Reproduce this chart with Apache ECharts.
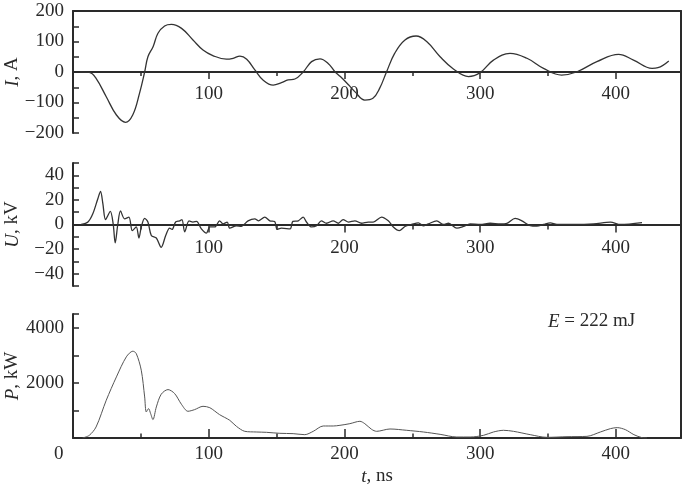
<!DOCTYPE html>
<html>
<head>
<meta charset="utf-8">
<script src="https://cdn.jsdelivr.net/npm/echarts@6.0.0/dist/echarts.min.js"></script>
<style>
  html, body { margin: 0; padding: 0; background: #fff; }
  #chart { width: 685px; height: 487px; }
</style>
</head>
<body>
<div id="chart"></div>
<script>
// current, A
const iTime = [5, 12, 17, 24.5, 32, 38.7, 44, 49, 52.8, 55.2, 59, 62.6, 67.5, 72.5, 80, 88.4, 95.8, 103, 113, 118,
  123, 128, 134, 140, 147.5, 153.6, 158.5, 163.5, 169.6, 175.8, 182, 188, 193, 197, 203, 208, 215, 221, 226, 231,
  237, 244.6, 252.8, 260.6, 270.5, 280.3, 291.4, 300, 309.8, 322, 334.5, 346.7, 360, 371, 386, 402, 413, 426.7, 431, 439]
const iValue = [0, -1, -21, -81, -141, -165, -141, -70, 0, 50, 83, 127, 151, 156, 143, 105, 72, 54, 42, 45,
  52, 42, 7, -26, -43, -35, -26, -23, 0, 34, 43, 28, 1, -15, -42, -66, -92, -86, -53, 0,
  61, 105, 118, 100, 50, 10, -15, -2, 39, 61, 45, 12, -10, 0, 34, 58, 39, 12, 14, 36]

// voltage, kV
const uTime = [6, 11, 14.6, 18.3, 20.3, 22, 24, 27.5, 29.6, 31.1, 33, 35, 38, 41.2, 43.7, 46.6, 48.6, 50.3, 52.8, 55.2,
  57.7, 61.4, 65, 68.3, 71.2, 73, 75.6, 78.6, 80.3, 82.3, 85.5, 88.4, 91, 94.6, 98.3, 100.8, 104.5, 108, 110.5, 113.6,
  115.5, 120.4, 124, 129, 134, 136.5, 141.3, 145, 148.6, 150.4, 153.6, 160, 162, 166, 169.6, 172, 175.8, 179.5, 183, 186.8,
  191.7, 195.5, 199, 203, 207.7, 212.6, 217.5, 221.2, 227.4, 232.3, 236, 240.4, 244.6, 249.5, 254.5, 258, 261.8, 268, 273, 276.7,
  282.8, 287.7, 292.6, 300, 307.4, 314.8, 319.7, 325.8, 330.8, 336.9, 341.8, 346.7, 351.7, 356.6, 368.9, 383.6, 396, 403.4, 419.3]
const uValue = [0, 2, 8.7, 21, 27, 17, 4, 10.6, 0.5, -15, 0, 11, 4.6, 6, -5, -2, -11, -2, 5, 2,
  -9, -11, -18.5, -9, -3, -4, 2, 3, 4, -6, 3, 2, 2.5, -3.5, -7, -2, -2, 3, 0.5, 2,
  -3, -1, -1.5, 3, 4.6, 3, 6, 3, 2.5, -4, -3, -3.5, 2.5, 3, 6, 2, -2, -1, 3, 1,
  3, 1, 4, 2, 3, 1, 2, 2, 6, 3, -2, -5, -1.6, 0, 1.4, -1, 0.5, 3, 0, 1,
  -3, -1.6, 0.5, 0, 1, 0.5, 1, 5, 3, -1, -1.4, 0, 1.4, 0, 0, 0.5, 2, 0, 1.6]

// power, kW
const pTime = [7, 12, 17, 24.5, 32, 39.3, 44.1, 46.6, 50.3, 52.8, 54, 55.7, 57.2, 58.9, 61.4, 65, 70, 74.9, 79.9, 84.7,
  89.6, 95.8, 100.8, 108, 115.5, 120.4, 126.6, 135, 142.5, 152.4, 162.2, 170.8, 177, 184.4, 191.8, 196.7, 204, 211.4, 215, 220,
  223.7, 233.6, 245.9, 258.2, 270.5, 282.8, 292.6, 302.5, 309.8, 317.2, 324.6, 336.9, 349.2, 364, 378.7, 388.6, 396, 401, 407, 413.3,
  419.3, 423]
const pValue = [0, 97, 400, 1370, 2218, 2945, 3150, 3066, 2460, 1490, 945, 1066, 885, 667, 1127, 1588, 1757, 1612, 1224, 970,
  1030, 1150, 1100, 848, 642, 424, 242, 218, 206, 170, 158, 121, 242, 436, 436, 460, 520, 606, 520, 315,
  242, 327, 279, 218, 133, 36, 36, 97, 218, 279, 242, 121, 24, 48, 60, 218, 340, 376, 303, 121,
  12, 0]

const energyNote = '{i|E} = 222 mJ'

const FONT = 'Liberation Serif'
const INK = '#2a2a2a'
const minus = (v) => String(v).replace('-', '\u2212')
const italic = { i: { fontStyle: 'italic', fontFamily: FONT, fontSize: 19, color: INK } }
const pairs = (ts, vs) => ts.map((t, k) => [t, vs[k]])

const line = { color: INK, width: 2 }
const tickStyle = { color: INK, width: 1.5 }
const labelBase = { color: INK, fontFamily: FONT, fontSize: 19 }

// x axes: the upper two sit on their panel's zero line (pulled up with a negative offset)
const xAxisFor = (gridIndex, opts) => ({
  gridIndex,
  type: 'value',
  min: 0,
  max: 448,
  interval: 100,
  offset: opts.offset || 0,
  axisLine: { onZero: false, lineStyle: line },
  axisTick: { inside: opts.inside, length: opts.tick, lineStyle: tickStyle },
  minorTick: { show: true, splitNumber: 2, length: opts.minor, lineStyle: tickStyle },
  axisLabel: { ...labelBase, margin: opts.margin, formatter: opts.fmt, rich: opts.rich },
  splitLine: { show: false },
  minorSplitLine: { show: false },
  ...opts.extra,
})

const yAxisFor = (gridIndex, opts) => ({
  gridIndex,
  type: 'value',
  min: opts.min,
  max: opts.max,
  interval: opts.interval,
  name: opts.name,
  nameLocation: 'middle',
  nameRotate: 90,
  nameGap: 51,
  nameMoveOverlap: false,
  nameTextStyle: { ...labelBase, rich: italic },
  axisLine: { onZero: false, lineStyle: line },
  axisTick: { inside: true, length: 6, lineStyle: tickStyle },
  axisLabel: { ...labelBase, margin: 9, formatter: opts.fmt },
  splitLine: { show: false },
})

const chart = echarts.init(document.getElementById('chart'))

const gridBase = { left: 73, right: 4, outerBoundsMode: 'none', containLabel: false }

chart.setOption({
  animation: false,
  backgroundColor: '#fff',
  title: {
    text: energyNote,
    left: 548,
    top: 312,
    padding: 0,
    textStyle: { ...labelBase, fontWeight: 'normal', rich: italic },
  },
  grid: [
    { ...gridBase, top: 11, height: 122 },
    { ...gridBase, top: 163, height: 123 },
    { ...gridBase, top: 314, height: 124 },
    { ...gridBase, top: 11, bottom: 49 },
  ],
  xAxis: [
    xAxisFor(0, { offset: -61, inside: false, tick: 7, minor: 4, margin: 13, fmt: (v) => (v > 0 && v <= 400 ? v : '') }),
    xAxisFor(1, { offset: -61.5, inside: false, tick: 8, minor: 5, margin: 14, fmt: (v) => (v > 0 && v <= 400 ? v : '') }),
    xAxisFor(2, {
      inside: true, tick: 9, minor: 4.5, margin: 7,
      fmt: (v) => (v === 0 ? '{z|0}' : v <= 400 ? v : ''),
      rich: { z: { ...labelBase, width: 38, align: 'left' } },
      extra: {
        name: '{i|t}, ns', nameLocation: 'middle', nameGap: 29, nameMoveOverlap: false,
        nameTextStyle: { ...labelBase, rich: italic },
      },
    }),
    {
      gridIndex: 3, type: 'value', min: 0, max: 1, position: 'top',
      axisLine: { onZero: false, lineStyle: line },
      axisTick: { show: false }, axisLabel: { show: false }, splitLine: { show: false },
    },
  ],
  yAxis: [
    yAxisFor(0, { min: -200, max: 200, interval: 50, name: '{i|I}, A', fmt: (v) => (v % 100 === 0 ? minus(v) : '') }),
    yAxisFor(1, { min: -50, max: 50, interval: 10, name: '{i|U}, kV', fmt: (v) => (v % 20 === 0 && Math.abs(v) < 50 ? minus(v) : '') }),
    yAxisFor(2, { min: 0, max: 4500, interval: 1000, name: '{i|P}, kW', fmt: (v) => (v === 2000 || v === 4000 ? v : '') }),
    {
      gridIndex: 3, type: 'value', min: 0, max: 1, position: 'right',
      axisLine: { onZero: false, lineStyle: line },
      axisTick: { show: false }, axisLabel: { show: false }, splitLine: { show: false },
    },
  ],
  series: [
    {
      name: 'I', type: 'line', xAxisIndex: 0, yAxisIndex: 0, smooth: 0.4, symbol: 'none',
      lineStyle: { color: '#333', width: 1.3 }, data: pairs(iTime, iValue),
    },
    {
      name: 'U', type: 'line', xAxisIndex: 1, yAxisIndex: 1, smooth: 0.3, symbol: 'none',
      lineStyle: { color: '#333', width: 1.3 }, data: pairs(uTime, uValue),
    },
    {
      name: 'P', type: 'line', xAxisIndex: 2, yAxisIndex: 2, smooth: 0.3, symbol: 'none',
      lineStyle: { color: '#555', width: 1 }, data: pairs(pTime, pValue),
    },
  ],
})
</script>
</body>
</html>
